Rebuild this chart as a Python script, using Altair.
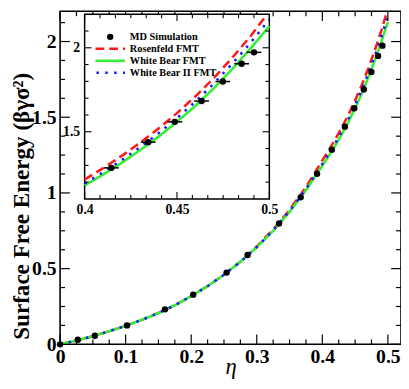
import altair as alt
import pandas as pd

# ---------------- data ----------------
ETA = [0, 0.025, 0.05, 0.075, 0.1, 0.125, 0.15, 0.175, 0.2, 0.225, 0.25, 0.275,
       0.3, 0.325, 0.35, 0.375, 0.4, 0.41, 0.42, 0.43, 0.44, 0.45, 0.46, 0.47,
       0.48, 0.49, 0.5]
WB = [0, 0.025, 0.054, 0.087, 0.122, 0.162, 0.207, 0.258, 0.318, 0.384, 0.46, 0.545,
      0.64, 0.75, 0.875, 1.018, 1.18, 1.245, 1.315, 1.39, 1.471, 1.559, 1.655, 1.76,
      1.875, 1.998, 2.13]
WB2 = [0, 0.025, 0.054, 0.087, 0.122, 0.162, 0.207, 0.258, 0.318, 0.384, 0.46, 0.545,
       0.642, 0.753, 0.88, 1.026, 1.192, 1.259, 1.331, 1.408, 1.491, 1.581, 1.68, 1.788,
       1.906, 2.032, 2.168]
RF_ETA = [0, 0.025, 0.05, 0.075, 0.1, 0.125, 0.15, 0.175, 0.2, 0.225, 0.25, 0.275,
          0.3, 0.325, 0.35, 0.375, 0.4, 0.41, 0.42, 0.43, 0.44, 0.45, 0.46, 0.47,
          0.48, 0.49, 0.498]
RF = [0, 0.025, 0.054, 0.087, 0.122, 0.162, 0.207, 0.258, 0.318, 0.384, 0.46, 0.546,
      0.646, 0.759, 0.888, 1.038, 1.215, 1.283, 1.356, 1.434, 1.519, 1.611, 1.711, 1.821,
      1.942, 2.072, 2.188]

MD_ETA = [0, 0.027, 0.053, 0.102, 0.160, 0.203, 0.254, 0.286, 0.334, 0.367, 0.392,
          0.4145, 0.4344, 0.4488, 0.4633, 0.4748, 0.485, 0.4917]
MD_VAL = [0, 0.030, 0.057, 0.125, 0.231, 0.328, 0.474, 0.590, 0.798, 0.971, 1.126,
          1.285, 1.438, 1.559, 1.683, 1.799, 1.905, 1.973]
MD_XERR = [0.004] * len(MD_ETA)

MAIN_X_DOMAIN = [0, 0.52]
MAIN_Y_DOMAIN = [0, 2.2]
MAIN_X_MAJOR = [0, 0.1, 0.2, 0.3, 0.4, 0.5]
MAIN_X_MINOR = [0.025, 0.05, 0.075, 0.125, 0.15, 0.175, 0.225, 0.25, 0.275, 0.325,
                0.35, 0.375, 0.425, 0.45, 0.475]
MAIN_Y_MAJOR = [0, 0.5, 1, 1.5, 2]
MAIN_Y_MINOR = [0.125, 0.25, 0.375, 0.625, 0.75, 0.875, 1.125, 1.25, 1.375, 1.625,
                1.75, 1.875, 2.125]

INSET_X_DOMAIN = [0.4, 0.5]
INSET_Y_DOMAIN = [1.1, 2.2]
INSET_X_MAJOR = [0.4, 0.45, 0.5]
INSET_X_MINOR = [0.40833, 0.41667, 0.425, 0.43333, 0.44167, 0.45833, 0.46667, 0.475,
                 0.48333, 0.49167]
INSET_Y_MAJOR = [1.5, 2.0]
INSET_Y_MINOR = [1.2, 1.3, 1.4, 1.6, 1.7, 1.8, 1.9, 2.1]

LEGEND_LABELS = ["MD Simulation", "Rosenfeld FMT", "White Bear FMT", "White Bear II FMT"]

# ---------------- layout / style ----------------
VW, VH = 347, 339
IX = [25, 213]      # inset pixel range (x)
IY = [191, 3]       # inset pixel range (y)
FONT = "Liberation Serif"
RED, GREEN, BLUE = "#ff1a1a", "#33ee33", "#1a1aff"

curves = pd.DataFrame({"eta": ETA, "wb": WB, "wb2": WB2})
rf = pd.DataFrame({"eta": RF_ETA, "rf": RF})
md = pd.DataFrame({"eta": MD_ETA, "val": MD_VAL, "err": MD_XERR})
md["lo"] = md["eta"] - md["err"]
md["hi"] = md["eta"] + md["err"]

xs_main = alt.Scale(domain=MAIN_X_DOMAIN, nice=False, zero=False)
ys_main = alt.Scale(domain=MAIN_Y_DOMAIN, nice=False, zero=False)
xs_in = alt.Scale(domain=INSET_X_DOMAIN, range=IX, nice=False, zero=False)
ys_in = alt.Scale(domain=INSET_Y_DOMAIN, range=IY, nice=False, zero=False)

main_x_axis = alt.Axis(values=MAIN_X_MAJOR, format="~g", orient="bottom", ticks=False,
                       tickSize=0, domain=False, grid=False, labelPadding=2, labelFlush=False,
                       labelFont=FONT, labelFontWeight="bold", labelFontSize=20,
                       labelColor="black", title="η", titleFont=FONT,
                       titleFontStyle="italic", titleFontWeight="normal",
                       titleFontSize=23, titleColor="black", titleY=30,
                       titleBaseline="alphabetic")
main_y_axis = alt.Axis(values=MAIN_Y_MAJOR, format="~g", orient="left", ticks=False,
                       tickSize=0, domain=False, grid=False, labelPadding=4, labelFlush=False,
                       labelFont=FONT, labelFontWeight="bold", labelFontSize=20,
                       labelColor="black", title="Surface Free Energy (βγσ²)",
                       titleFont=FONT, titleFontWeight="bold", titleFontSize=23.5,
                       titleColor="black", titleAngle=270, titleX=-32.5, titleY=198,
                       titleAlign="center", titleBaseline="alphabetic")
in_x_axis = alt.Axis(values=INSET_X_MAJOR, format="~g", orient="bottom", offset=-(VH - IY[0]),
                     ticks=False, tickSize=0, domain=False, grid=False, labelPadding=4,
                     labelFlush=False, labelFont=FONT, labelFontWeight="bold", labelFontSize=14,
                     labelColor="black", title=None)
in_y_axis = alt.Axis(values=INSET_Y_MAJOR, format="~g", orient="left", offset=-IX[0],
                     ticks=False, tickSize=0, domain=False, grid=False, labelPadding=5,
                     labelFlush=False, labelFont=FONT, labelFontWeight="bold", labelFontSize=14,
                     labelColor="black", title=None)


def line_layers(cdata, rdata, xs, ys, xaxis, yaxis, clip):
    red = alt.Chart(rdata).mark_line(color=RED, strokeWidth=2.6, strokeDash=[9, 5], clip=clip).encode(
        x=alt.X("eta:Q", scale=xs, axis=xaxis), y=alt.Y("rf:Q", scale=ys, axis=yaxis))
    green = alt.Chart(cdata).mark_line(color=GREEN, strokeWidth=2.6, clip=clip).encode(
        x=alt.X("eta:Q", scale=xs, axis=xaxis), y=alt.Y("wb:Q", scale=ys, axis=yaxis))
    blue = alt.Chart(cdata).mark_line(color=BLUE, strokeWidth=2.6, strokeDash=[2.5, 6.5], clip=clip).encode(
        x=alt.X("eta:Q", scale=xs, axis=xaxis), y=alt.Y("wb2:Q", scale=ys, axis=yaxis))
    return [red, green, blue]


def md_layers(data, xs, ys, xaxis, yaxis):
    base = alt.Chart(data)
    err = base.mark_rule(color="black", strokeWidth=1.5).encode(
        x=alt.X("lo:Q", scale=xs, axis=xaxis), x2="hi:Q", y=alt.Y("val:Q", scale=ys, axis=yaxis))
    pts = base.mark_circle(color="black", size=42, opacity=1).encode(
        x=alt.X("eta:Q", scale=xs, axis=xaxis), y=alt.Y("val:Q", scale=ys, axis=yaxis))
    return [err, pts]


def xticks(vals, xs, xaxis, p0, length, sw=1.2):
    return alt.Chart(pd.DataFrame({"v": vals})).mark_rule(color="black", strokeWidth=sw).encode(
        x=alt.X("v:Q", scale=xs, axis=xaxis), y=alt.value(p0), y2=alt.value(p0 + length))


def yticks(vals, ys, yaxis, p0, length, sw=1.2):
    return alt.Chart(pd.DataFrame({"v": vals})).mark_rule(color="black", strokeWidth=sw).encode(
        y=alt.Y("v:Q", scale=ys, axis=yaxis), x=alt.value(p0), x2=alt.value(p0 + length))


# ---------------- main panel ----------------
mx, my = main_x_axis, main_y_axis
main_layers = line_layers(curves, rf, xs_main, ys_main, mx, my, True)
main_layers += md_layers(md, xs_main, ys_main, mx, my)
main_layers += [xticks(MAIN_X_MAJOR, xs_main, mx, VH, -10), xticks(MAIN_X_MAJOR, xs_main, mx, 0, 10),
                xticks(MAIN_X_MINOR, xs_main, mx, VH, -5), xticks(MAIN_X_MINOR, xs_main, mx, 0, 5),
                yticks(MAIN_Y_MAJOR, ys_main, my, 0, 10), yticks(MAIN_Y_MAJOR, ys_main, my, VW, -10),
                yticks(MAIN_Y_MINOR, ys_main, my, 0, 5), yticks(MAIN_Y_MINOR, ys_main, my, VW, -5)]
main = alt.layer(*main_layers)

# ---------------- inset panel ----------------
ix, iy = in_x_axis, in_y_axis
frame = alt.Chart(pd.DataFrame({"x0": [INSET_X_DOMAIN[0]], "x1": [INSET_X_DOMAIN[1]],
                                "y0": [INSET_Y_DOMAIN[0]], "y1": [INSET_Y_DOMAIN[1]]})
                  ).mark_rect(fill="white", stroke="black", strokeWidth=1.5).encode(
    x=alt.X("x0:Q", scale=xs_in, axis=ix), x2="x1:Q",
    y=alt.Y("y0:Q", scale=ys_in, axis=iy), y2="y1:Q")

in_curves = curves[curves["eta"] >= INSET_X_DOMAIN[0]]
in_rf = rf[rf["eta"] >= INSET_X_DOMAIN[0]]
in_md = md[md["eta"] >= INSET_X_DOMAIN[0]]
inset_layers = [frame]
inset_layers += line_layers(in_curves, in_rf, xs_in, ys_in, ix, iy, False)
inset_layers += md_layers(in_md, xs_in, ys_in, ix, iy)
inset_layers += [xticks(INSET_X_MAJOR, xs_in, ix, IY[0], -7, 1.1), xticks(INSET_X_MAJOR, xs_in, ix, IY[1], 7, 1.1),
                 xticks(INSET_X_MINOR, xs_in, ix, IY[0], -4, 1.1), xticks(INSET_X_MINOR, xs_in, ix, IY[1], 4, 1.1),
                 yticks(INSET_Y_MAJOR, ys_in, iy, IX[0], 7, 1.1), yticks(INSET_Y_MAJOR, ys_in, iy, IX[1], -7, 1.1),
                 yticks(INSET_Y_MINOR, ys_in, iy, IX[0], 4, 1.1), yticks(INSET_Y_MINOR, ys_in, iy, IX[1], -4, 1.1)]

# legend inside the inset
one = pd.DataFrame({"k": [0]})
row_y = [26, 38.2, 50.4, 62.6]
leg_x0, leg_x1, leg_cx, leg_tx = 36, 66, 51, 71
inset_layers.append(alt.Chart(one).mark_circle(color="black", size=42, opacity=1).encode(
    x=alt.value(leg_cx), y=alt.value(row_y[0])))
inset_layers.append(alt.Chart(one).mark_rule(color=RED, strokeWidth=2.6, strokeDash=[9, 5]).encode(
    x=alt.value(leg_x0), x2=alt.value(leg_x1), y=alt.value(row_y[1])))
inset_layers.append(alt.Chart(one).mark_rule(color=GREEN, strokeWidth=2.6).encode(
    x=alt.value(leg_x0), x2=alt.value(leg_x1), y=alt.value(row_y[2])))
inset_layers.append(alt.Chart(one).mark_rule(color=BLUE, strokeWidth=2.6, strokeDash=[2.5, 6.5]).encode(
    x=alt.value(leg_x0 + 1), x2=alt.value(leg_x1), y=alt.value(row_y[3])))
for lab, yy in zip(LEGEND_LABELS, row_y):
    inset_layers.append(alt.Chart(pd.DataFrame({"label": [lab]})).mark_text(
        font=FONT, fontWeight="bold", fontSize=10.5, align="left", baseline="middle",
        color="black").encode(x=alt.value(leg_tx), y=alt.value(yy), text="label:N"))

inset = alt.layer(*inset_layers)

chart = alt.layer(main, inset).resolve_scale(x="independent", y="independent").properties(
    width=VW, height=VH,
    padding={"left": 53, "top": 0, "right": 0, "bottom": 34},
    autosize=alt.AutoSizeParams(type="none"),
).configure_view(stroke="black", strokeWidth=1.6)

chart.save("out.html", embed_options={"renderer": "svg", "actions": False})
